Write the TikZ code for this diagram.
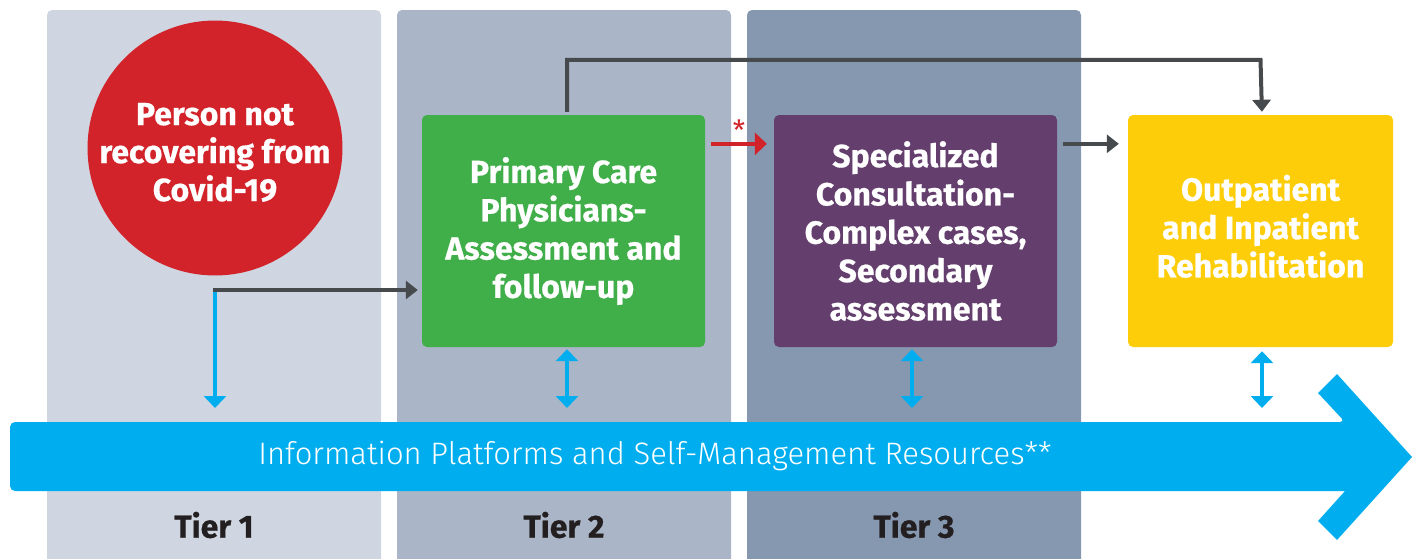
\documentclass[tikz,border=0pt]{standalone}
\usepackage{fontspec}
\setmainfont{Fira Sans}
\newfontfamily\cond[FakeBold=0.6]{Fira Sans}
\newfontfamily\lightf{Fira Sans Light}
\usetikzlibrary{arrows.meta}
\definecolor{tierA}{HTML}{CFD6E1}
\definecolor{tierB}{HTML}{AAB5C8}
\definecolor{tierC}{HTML}{8697B0}
\definecolor{covidred}{HTML}{D2232A}
\definecolor{pgreen}{HTML}{40AE49}
\definecolor{spurple}{HTML}{643F6E}
\definecolor{ryellow}{HTML}{FDCD0A}
\definecolor{infoblue}{HTML}{00AEEF}
\definecolor{darkline}{HTML}{464A4C}
\definecolor{labeltext}{HTML}{231F20}
\tikzset{
  stagebox/.style={rounded corners=5pt, inner sep=0pt, minimum width=283pt, minimum height=232pt, text=white, align=center, font=\cond\bfseries\fontsize{32}{38.3}\selectfont},
  darkarrow/.style={draw=darkline, line width=4pt, -{Triangle[length=12pt,width=18pt]}},
  redarrow/.style={draw=covidred, line width=4pt, -{Triangle[length=12pt,width=22pt]}},
  bluearrow/.style={draw=infoblue, line width=4pt, -{Triangle[length=12pt,width=22pt]}},
  bluedouble/.style={draw=infoblue, line width=4pt, {Triangle[length=12pt,width=22pt]}-{Triangle[length=12pt,width=22pt]}},
  tierlabel/.style={text=labeltext, font=\cond\bfseries\fontsize{32}{38}\selectfont},
}
\begin{document}
\begin{tikzpicture}[x=1pt,y=-1pt]
\useasboundingbox (0,0) rectangle (1412,558);
\clip (0,0) rectangle (1412,558);
% tier columns
\fill[tierA, rounded corners=5pt] (47,10) rectangle (381,600);
\fill[tierB, rounded corners=5pt] (397,10) rectangle (731,600);
\fill[tierC, rounded corners=5pt] (747,10) rectangle (1081,600);
% information band
\fill[infoblue, rounded corners=5pt] (10,422) -- (1345,422) [sharp corners] -- (1318,393) -- (1337,374) -- (1412,457) -- (1337,540) -- (1318,521) -- (1345,491) [rounded corners=5pt] -- (10,491) -- cycle;
\node[text=white, font=\lightf\fontsize{31}{36}\selectfont] (band) at (655,456) {Information Platforms and Self-Management Resources**};
% main nodes
\node[circle, fill=covidred, minimum size=251pt, inner sep=0pt, text=white, align=center, font=\cond\bfseries\fontsize{32}{38}\selectfont] (person) at (215,148) {\rule{0pt}{31pt}Person not\\recovering from\\Covid-19};
\node[stagebox, fill=pgreen] (primary) at (563.5,231) {Primary Care\\Physicians-\\Assessment and\\follow-up};
\node[stagebox, fill=spurple] (special) at (915.5,231) {Specialized\\Consultation-\\Complex cases,\\Secondary\\assessment};
\node[stagebox, fill=ryellow, minimum width=265pt] (rehab) at (1260.5,231) {Outpatient\\and Inpatient\\Rehabilitation\rule[-10pt]{0pt}{0pt}};
% tier labels
\node[tierlabel] (tier1) at (214,525) {Tier 1};
\node[tierlabel] (tier2) at (564,525) {Tier 2};
\node[tierlabel] (tier3) at (914,525) {Tier 3};
% coordinates
\coordinate (split) at (215,290);
\coordinate (b1) at (215,408);
\coordinate (b2) at (567,408);
\coordinate (b3) at (912,408);
\coordinate (b4) at (1262,408);
% connectors
\draw[bluearrow] (split) -- (b1);
\draw[darkarrow, shorten >=4pt] ([xshift=-2pt]split) -- (split -| primary.west);
\draw[darkarrow, shorten >=3pt] ([xshift=3.5pt,yshift=3pt]primary.north) |- ([yshift=55pt]primary.north -| rehab.north) -- ([xshift=1.5pt]rehab.north);
\draw[redarrow, shorten <=6pt, shorten >=7pt] ([yshift=-29pt]primary.north east) -- ([yshift=-29pt]special.north west);
\node[text=covidred, font=\fontsize{28}{28}\selectfont, inner sep=0pt] (star) at (739,130) {*};
\draw[darkarrow, shorten <=6pt, shorten >=9pt] ([yshift=-29pt]special.north east) -- ([yshift=-29pt]rehab.north west);
\draw[bluedouble, shorten <=2pt] (b2 |- primary.south) -- (b2);
\draw[bluedouble, shorten <=2pt] (b3 |- special.south) -- (b3);
\draw[bluedouble, shorten <=4pt] (b4 |- rehab.south) -- (b4);
\end{tikzpicture}
\end{document}
